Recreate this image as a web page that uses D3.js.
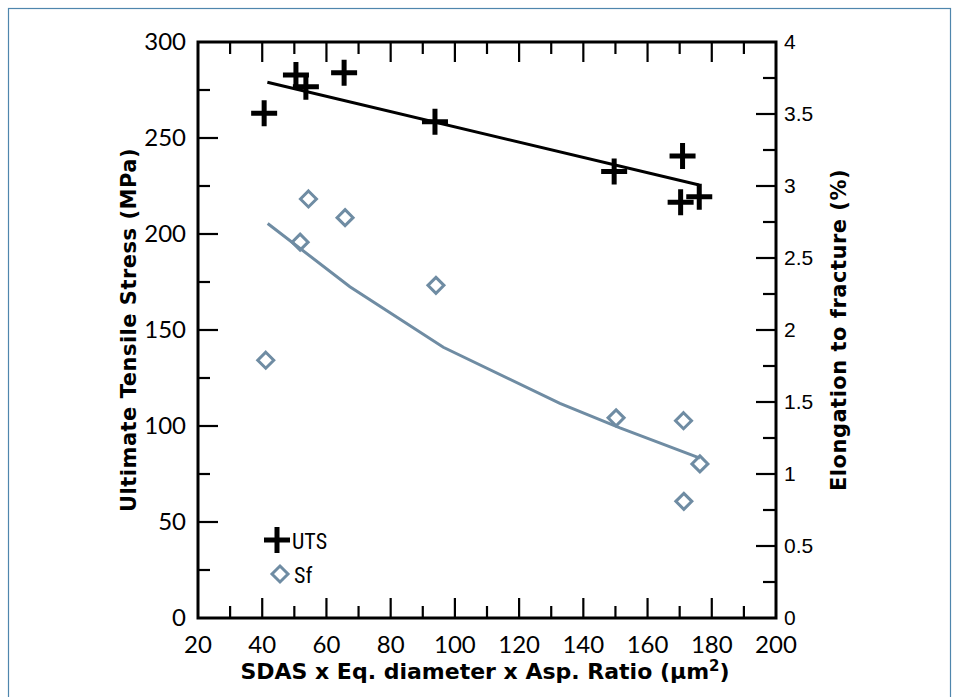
<!DOCTYPE html>
<html>
<head>
<meta charset="utf-8">
<script src="https://cdn.jsdelivr.net/npm/d3@7"></script>
<style>
  body { margin: 0; background: #fff; }
  svg { display: block; }
</style>
</head>
<body>
<div id="chart"></div>
<script>
// UTS data (left axis, MPa)
const utsX = [40.6, 50.5, 53.6, 65.5, 93.8, 149.6, 170.9, 170.3, 176.1]
const utsY = [262.9, 282.8, 276.7, 284, 258.5, 232.5, 240.6, 216.5, 219.4]
// Sf data (right axis, %)
const sfX = [41.1, 51.8, 54.4, 65.8, 94.1, 150.2, 171.2, 171.3, 176.3]
const sfY = [1.79, 2.61, 2.91, 2.78, 2.31, 1.39, 1.37, 0.81, 1.07]
// trend lines
const utsFitX = [41.6, 176.1]
const utsFitY = [279, 225.5]
const sfFitX = [41.7, 67.3, 96.4, 132.7, 151.4, 176.3]
const sfFitY = [2.74, 2.30, 1.88, 1.49, 1.32, 1.11]

const xTicks = [20, 40, 60, 80, 100, 120, 140, 160, 180, 200]
const yLeftTicks = [0, 50, 100, 150, 200, 250, 300]
const yRightTicks = [0, 0.5, 1, 1.5, 2, 2.5, 3, 3.5, 4]

const W = 960, H = 697
const plot = {left: 198, right: 776, top: 42, bottom: 618}
const sfColor = "#6f8ca3"

const svg = d3.select("#chart").append("svg")
    .attr("width", W)
    .attr("height", H)

// outer frame
svg.append("rect")
    .attr("x", 8.5).attr("y", 8.5)
    .attr("width", 942).attr("height", 700)
    .attr("fill", "none")
    .attr("stroke", "#4f86ad")
    .attr("stroke-width", 1.2)

const x = d3.scaleLinear().domain([20, 200]).range([plot.left, plot.right])
const yL = d3.scaleLinear().domain([0, 300]).range([plot.bottom, plot.top])
const yR = d3.scaleLinear().domain([0, 4]).range([plot.bottom, plot.top])

const numFont = "Lato, 'Open Sans', sans-serif"

// ticks drawn inward from the frame
function ticks(g, vals, scale, orient, len) {
    g.selectAll(null).data(vals).join("line")
        .each(function(d) {
            const s = d3.select(this)
            if (orient === "bottom") s.attr("x1", scale(d)).attr("x2", scale(d)).attr("y1", plot.bottom).attr("y2", plot.bottom - len)
            if (orient === "top") s.attr("x1", scale(d)).attr("x2", scale(d)).attr("y1", plot.top).attr("y2", plot.top + len)
            if (orient === "left") s.attr("y1", scale(d)).attr("y2", scale(d)).attr("x1", plot.left).attr("x2", plot.left + len)
            if (orient === "right") s.attr("y1", scale(d)).attr("y2", scale(d)).attr("x1", plot.right).attr("x2", plot.right - len)
        })
        .attr("stroke", "#000")
        .attr("stroke-width", 2.2)
}

const ticksG = svg.append("g")
ticks(ticksG, d3.range(30, 200, 20), x, "bottom", 12)
ticks(ticksG, d3.range(30, 200, 20), x, "top", 12)
ticks(ticksG, xTicks.slice(1, -1), x, "bottom", 20)
ticks(ticksG, xTicks.slice(1, -1), x, "top", 20)
ticks(ticksG, d3.range(25, 300, 50), yL, "left", 12)
ticks(ticksG, yLeftTicks.slice(1, -1), yL, "left", 20)
ticks(ticksG, d3.range(0.25, 4, 0.5), yR, "right", 13)
ticks(ticksG, yRightTicks.slice(1, -1), yR, "right", 20)

// frame of the plot
svg.append("rect")
    .attr("x", plot.left).attr("y", plot.top)
    .attr("width", plot.right - plot.left)
    .attr("height", plot.bottom - plot.top)
    .attr("fill", "none")
    .attr("stroke", "#000")
    .attr("stroke-width", 3)

// tick labels
svg.append("g").selectAll("text").data(xTicks).join("text")
    .attr("x", d => x(d))
    .attr("y", plot.bottom + 35)
    .attr("text-anchor", "middle")
    .style("font-family", numFont)
    .style("font-size", "24px")
    .text(d => d)

svg.append("g").selectAll("text").data(yLeftTicks).join("text")
    .attr("x", plot.left - 12)
    .attr("y", d => yL(d) + 8)
    .attr("text-anchor", "end")
    .style("font-family", numFont)
    .style("font-size", "24px")
    .text(d => d)

svg.append("g").selectAll("text").data(yRightTicks).join("text")
    .attr("x", plot.right + 8)
    .attr("y", d => yR(d) + 7)
    .attr("text-anchor", "start")
    .style("font-family", "'Liberation Sans', Arial, sans-serif")
    .style("font-size", "21px")
    .text(d => d)

// axis titles
svg.append("text")
    .attr("x", (plot.left + plot.right) / 2 - 2)
    .attr("y", 679)
    .attr("text-anchor", "middle")
    .style("font-family", "'DejaVu Sans', sans-serif")
    .style("font-weight", "bold")
    .style("font-size", "22px")
    .html("SDAS x Eq. diameter x Asp. Ratio (μm<tspan dy='-8' font-size='15px'>2</tspan><tspan dy='8'>)</tspan>")

svg.append("text")
    .attr("transform", `translate(136,${(plot.top + plot.bottom) / 2}) rotate(-90)`)
    .attr("text-anchor", "middle")
    .style("font-family", "'DejaVu Sans', sans-serif")
    .style("font-weight", "bold")
    .style("font-size", "21px")
    .style("letter-spacing", "0.5px")
    .text("Ultimate Tensile Stress (MPa)")

svg.append("text")
    .attr("transform", `translate(846,${(plot.top + plot.bottom) / 2}) rotate(-90)`)
    .attr("text-anchor", "middle")
    .style("font-family", "'DejaVu Sans', sans-serif")
    .style("font-weight", "bold")
    .style("font-size", "21px")
    .style("letter-spacing", "0.5px")
    .text("Elongation to fracture (%)")

// trend lines
const utsLine = d3.line().x(d => x(d[0])).y(d => yL(d[1]))
svg.append("path")
    .datum(d3.zip(utsFitX, utsFitY))
    .attr("fill", "none")
    .attr("stroke", "#000")
    .attr("stroke-width", 3)
    .attr("d", utsLine)

const sfLine = d3.line().x(d => x(d[0])).y(d => yR(d[1]))
svg.append("path")
    .datum(d3.zip(sfFitX, sfFitY))
    .attr("fill", "none")
    .attr("stroke", sfColor)
    .attr("stroke-width", 3)
    .attr("d", sfLine)

// markers
const cross = "M-13,0H13M0,-13V13"
svg.append("g").selectAll("path").data(d3.zip(utsX, utsY)).join("path")
    .attr("transform", d => `translate(${x(d[0])},${yL(d[1])})`)
    .attr("d", cross)
    .attr("stroke", "#000")
    .attr("stroke-width", 5)
    .attr("fill", "none")

const diamond = "M0,-8L8,0L0,8L-8,0Z"
svg.append("g").selectAll("path").data(d3.zip(sfX, sfY)).join("path")
    .attr("transform", d => `translate(${x(d[0])},${yR(d[1])})`)
    .attr("d", diamond)
    .attr("stroke", sfColor)
    .attr("stroke-width", 3)
    .attr("fill", "none")

// legend
const legendFont = "'Liberation Sans Narrow', 'Roboto Condensed', 'DejaVu Sans Condensed', sans-serif"
const legend = svg.append("g")
legend.append("path")
    .attr("transform", "translate(277,540)")
    .attr("d", cross)
    .attr("stroke", "#000")
    .attr("stroke-width", 5)
    .attr("fill", "none")
legend.append("text")
    .attr("x", 292).attr("y", 549)
    .style("font-family", legendFont)
    .style("font-size", "22px")
    .text("UTS")
legend.append("path")
    .attr("transform", "translate(280,574)")
    .attr("d", diamond)
    .attr("stroke", sfColor)
    .attr("stroke-width", 3)
    .attr("fill", "none")
legend.append("text")
    .attr("x", 294).attr("y", 583)
    .style("font-family", legendFont)
    .style("font-size", "22px")
    .text("Sf")
</script>
</body>
</html>
